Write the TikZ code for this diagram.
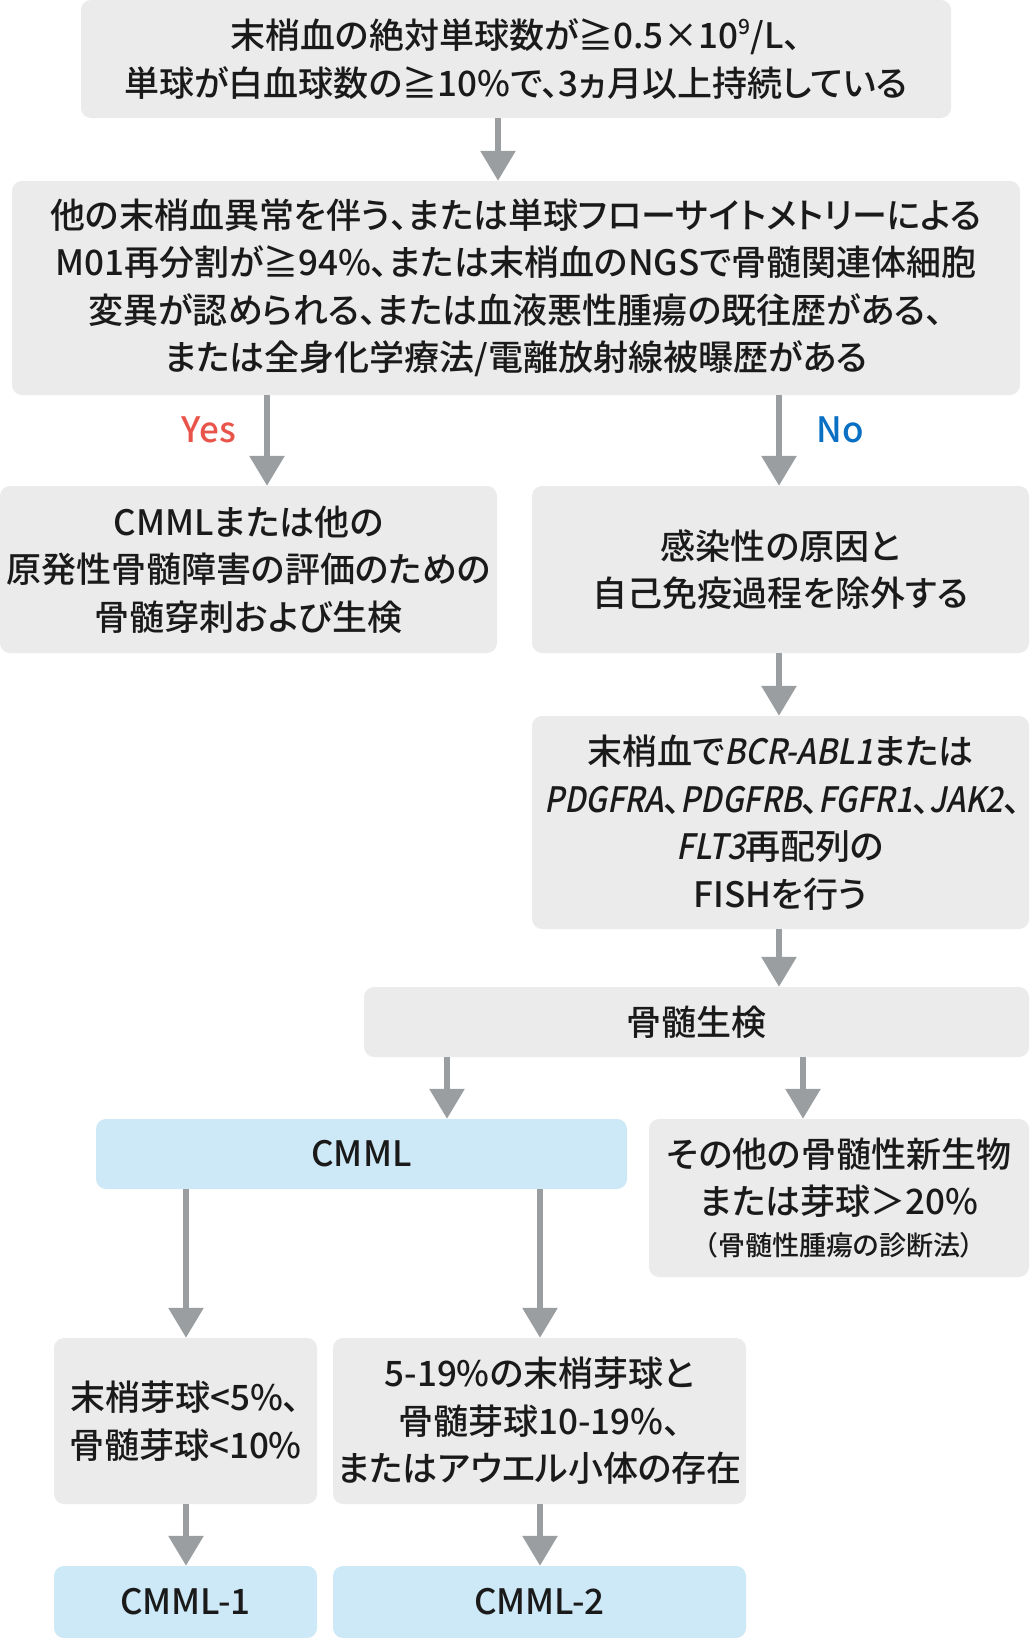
\documentclass[tikz,border=0pt]{standalone}
\usepackage{fontspec}
\usepackage{graphicx}
\IfFontExistsTF{Noto Sans CJK JP Medium}{%
\setmainfont{Noto Sans CJK JP Medium}[RawFeature=+palt,ItalicFont={Noto Sans CJK JP Medium},ItalicFeatures={FakeSlant=0.2,FakeStretch=0.9}]%
}{%
\setmainfont{Noto Sans CJK JP}[RawFeature=+palt,FakeBold=0.6,ItalicFont={Noto Sans CJK JP},ItalicFeatures={FakeSlant=0.2,FakeStretch=0.9}]%
}
\usetikzlibrary{arrows.meta}
\definecolor{boxgray}{HTML}{EBEBEB}
\definecolor{boxblue}{HTML}{CDE8F6}
\definecolor{arrgray}{HTML}{9B9EA0}
\definecolor{txt}{HTML}{1A1A1A}
\definecolor{yesred}{HTML}{E8534A}
\definecolor{noblue}{HTML}{0A70C4}
\tikzset{
 box/.style={fill=boxgray, rounded corners=10pt, inner sep=0pt, align=center, text=txt, font=\fontsize{35}{47.5}\selectfont},
 bluebox/.style={box, fill=boxblue},
 arr/.style={draw=arrgray, line width=6pt, -{Triangle[width=34pt,length=30pt]}},
 lbl/.style={font=\fontsize{35}{40}\selectfont, inner sep=0pt},
}
\begin{document}
\begin{tikzpicture}[x=1pt,y=-1pt]
\useasboundingbox (0,0) rectangle (1029,1638);
\node[box, minimum width=870pt, minimum height=118pt] (b1) at (516,59)
 {末梢血の絶対単球数が≧0.5×10\raisebox{0.42em}{\fontsize{21}{21}\selectfont 9}/L、\\単球が白血球数の≧10\%で、3ヵ月以上持続している};
\node[box, minimum width=1008pt, minimum height=214pt] (b2) at (516,288)
 {他の末梢血異常を伴う、または単球フローサイトメトリーによる\\M01再分割が≧94\%、または末梢血のNGSで骨髄関連体細胞\\変異が認められる、または血液悪性腫瘍の既往歴がある、\\または全身化学療法/電離放射線被曝歴がある};
\node[box, minimum width=497pt, minimum height=167pt] (b3) at (248.5,569.5)
 {CMMLまたは他の\\原発性骨髄障害の評価のための\\骨髄穿刺および生検};
\node[box, minimum width=497pt, minimum height=167pt] (b4) at (780.5,569.5)
 {感染性の原因と\\自己免疫過程を除外する};
\node[box, minimum width=497pt, minimum height=213pt] (b5) at (780.5,822.5)
 {末梢血で\textit{BCR-ABL1}または\\\hspace*{4pt}\scalebox{0.975}[1]{\textit{PDGFRA}、\textit{PDGFRB}、\textit{FGFR1}、\textit{JAK2}、}\\\textit{FLT3}再配列の\\FISHを行う};
\node[box, minimum width=665pt, minimum height=70pt] (b6) at (696.5,1022) {骨髄生検};
\node[bluebox, minimum width=531pt, minimum height=70pt] (cm) at (361.5,1154) {CMML};
\node[box, minimum width=380pt, minimum height=158pt] (ot) at (839,1198)
 {その他の骨髄性新生物\\または芽球＞20\%\\[-7pt]{\fontsize{27}{36}\selectfont （骨髄性腫瘍の診断法）}};
\node[box, minimum width=263pt, minimum height=166pt] (bl) at (185.5,1421)
 {末梢芽球<5\%、\\骨髄芽球<10\%};
\node[box, minimum width=413pt, minimum height=166pt] (br) at (539.5,1421)
 {5-19\%の末梢芽球と\\骨髄芽球10-19\%、\\またはアウエル小体の存在};
\node[bluebox, minimum width=263pt, minimum height=72pt] (c1) at (185.5,1602) {CMML-1};
\node[bluebox, minimum width=413pt, minimum height=72pt] (c2) at (539.5,1602) {CMML-2};
\node[lbl, text=yesred] (yes) at (209,430) {Yes};
\node[lbl, text=noblue] (no) at (840,430) {No};
\coordinate (xa) at (498,0);
\coordinate (xy) at (267,0);
\coordinate (xn) at (779,0);
\coordinate (xc) at (447,0);
\coordinate (xo) at (803,0);
\coordinate (xl) at (186,0);
\coordinate (xr) at (540,0);
\draw[arr] (b1.south -| xa) -- (b2.north -| xa);
\draw[arr] (b2.south -| xy) -- (b3.north -| xy);
\draw[arr] (b2.south -| xn) -- (b4.north -| xn);
\draw[arr] (b4.south -| xn) -- (b5.north -| xn);
\draw[arr] (b5.south -| xn) -- (b6.north -| xn);
\draw[arr] (b6.south -| xc) -- (cm.north -| xc);
\draw[arr] (b6.south -| xo) -- (ot.north -| xo);
\draw[arr] (cm.south -| xl) -- (bl.north -| xl);
\draw[arr] (cm.south -| xr) -- (br.north -| xr);
\draw[arr] (bl.south -| xl) -- (c1.north -| xl);
\draw[arr] (br.south -| xr) -- (c2.north -| xr);
\end{tikzpicture}
\end{document}
